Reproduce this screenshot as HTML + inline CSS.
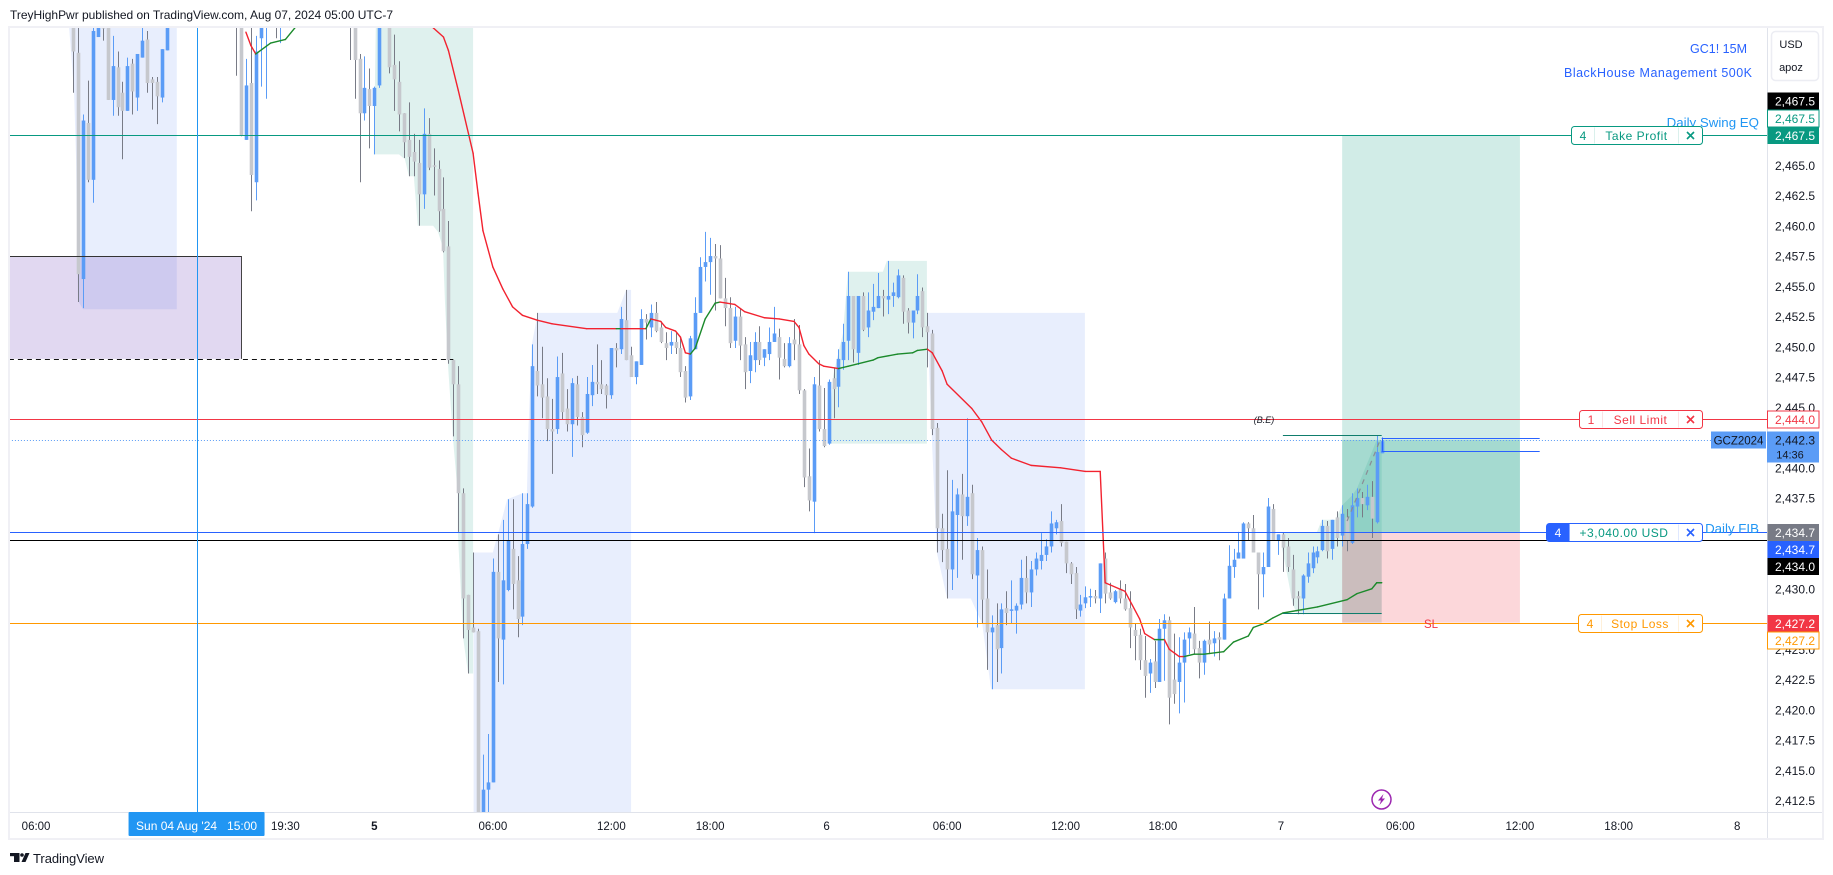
<!DOCTYPE html>
<html lang="en">
<head>
<meta charset="utf-8">
<title>GC1! 15M chart</title>
<style>
html,body{margin:0;padding:0;background:#fff;width:1833px;height:875px;overflow:hidden}
svg{display:block;font-family:"Liberation Sans",sans-serif}
</style>
</head>
<body>
<svg id="chart" width="1833" height="875" viewBox="0 0 1833 875" xmlns="http://www.w3.org/2000/svg">
  <defs><clipPath id="plot-clip"><rect x="10" y="28" width="1757" height="784"/></clipPath></defs>
  <rect x="0" y="0" width="1833" height="875" fill="#ffffff"/>
  <text x="10" y="19" font-size="12" fill="#131722" textLength="383">TreyHighPwr published on TradingView.com, Aug 07, 2024 05:00 UTC-7</text>
  <rect x="9" y="27" width="1814" height="812" fill="none" stroke="#f0f0f5" stroke-width="2"/>
  <g id="zones" clip-path="url(#plot-clip)"></g>
  <g id="candles" clip-path="url(#plot-clip)"></g>
  <g id="vwap" clip-path="url(#plot-clip)"></g>
  <g id="lines" clip-path="url(#plot-clip)"></g>
  <g id="annotations">
    <text x="1747" y="53" font-size="12.5" fill="#2962ff" text-anchor="end">GC1! 15M</text>
    <text x="1752" y="77" font-size="12.5" fill="#2962ff" text-anchor="end" textLength="188">BlackHouse Management 500K</text>
    <text x="1759" y="127" font-size="13.3" fill="#2196f3" text-anchor="end">Daily Swing EQ</text>
    <text x="1759" y="533" font-size="13.3" fill="#2196f3" text-anchor="end">Daily FIB</text>
    <text x="1264" y="423" font-size="9" font-style="italic" fill="#131722" text-anchor="middle">(B.E)</text>
    <text x="1431" y="628" font-size="11.5" fill="#f23645" text-anchor="middle">SL</text>
  </g>
  <g id="orders"></g>
  <rect x="1767" y="28" width="55" height="810" fill="#ffffff"/>
  <rect x="10" y="812" width="1812" height="26" fill="#ffffff"/>
  <line x1="1767.5" y1="28" x2="1767.5" y2="838" stroke="#e0e3eb"/>
  <line x1="10" y1="812.5" x2="1822" y2="812.5" stroke="#e0e3eb"/>
  <g id="price-axis"></g>
  <g id="time-axis"></g>
  <g>
    <rect x="1771.5" y="31.5" width="47" height="49" rx="4" fill="#fff" stroke="#ecedf3" stroke-width="1.5"/>
    <text x="1791" y="48" font-size="11" fill="#131722" text-anchor="middle">USD</text>
    <text x="1791" y="71" font-size="11" fill="#131722" text-anchor="middle">apoz</text>
  </g>
  <g>
    <circle cx="1381.5" cy="799.5" r="9.5" fill="#fff" stroke="#9c27b0" stroke-width="1.5"/>
    <polygon points="1383.5,794 1378,800.5 1381,800.5 1379.5,805 1385,798.5 1382,798.5" fill="#9c27b0"/>
  </g>
  <g>
    <rect x="10" y="853" width="9.500" height="3.200" fill="#131722"/>
    <rect x="14" y="853" width="5.500" height="9" fill="#131722"/>
    <circle cx="22" cy="855" r="1.800" fill="#131722"/>
    <polygon points="21.500,862 25.500,853 29.500,853 25.500,862" fill="#131722"/>
    <text x="33" y="863" font-size="13" fill="#131722" textLength="71">TradingView</text>
  </g>
</svg>
<script>
const _ = null;

const opens = [
2477.0,2474.3,2455.6,2468.5,2463.8,2475.6,2477.0,2477.0,2470.4,2473.1,
2471.0,2469.5,2473.4,2470.6,2473.9,2475.4,2472.1,2471.9,2470.6,2474.5,
_,_,_,_,_,_,_,_,_,_,
_,_,_,2478.0,2477.0,2467.1,2471.8,2463.6,2475.5,2477.0,
_,2478.0,2477.0,_,_,_,_,_,_,_,
_,_,_,_,_,_,2478.0,2477.0,2473.8,2469.3,
2471.3,2469.9,2471.6,_,2477.0,2473.3,2471.9,2469.3,2467.1,2466.1,
2465.2,2462.6,2467.6,2465.0,2464.7,2461.4,2458.3,2448.9,2446.9,2437.9,
2429.5,2426.8,2426.5,2410.8,2413.4,2414.0,2431.4,2425.8,2429.9,2433.3,
2430.7,2427.7,2433.7,2436.8,2448.0,2446.9,2445.9,2443.2,2443.2,2447.8,
2444.9,2443.6,2446.9,2444.2,2442.9,2446.0,2447.1,2446.9,2446.8,2446.0,
2449.9,2449.8,2452.2,2449.3,2447.5,2448.5,2452.3,2451.6,2452.8,2451.6,
2450.3,2450.1,2450.4,2449.9,2448.0,2445.9,2449.8,2452.8,2456.6,2457.0,
2457.5,2457.3,2454.0,2453.2,2450.5,2452.5,2450.2,2448.0,2448.9,2450.4,
2449.1,2449.4,2450.4,2450.8,2449.0,2448.4,2450.6,2450.2,2446.4,2439.3,
2437.2,2446.8,2443.2,2442.0,2447.4,2446.7,2448.9,2450.5,2454.2,2449.5,
2454.2,2451.6,2452.9,2453.2,2454.2,2453.9,2454.2,2454.1,2455.7,2453.0,
2452.0,2453.0,2454.6,2451.7,2451.1,2443.3,2435.0,2433.3,2431.6,2436.1,
2437.8,2436.0,2437.9,2431.1,2433.2,2429.2,2426.4,2427.0,2425.1,2428.4,
2428.2,2428.2,2428.7,2430.9,2429.7,2431.6,2432.3,2432.8,2433.5,2435.0,
2435.6,2433.9,2432.1,2431.3,2428.2,2428.8,2429.3,2429.4,2429.2,2432.5,
2429.7,2428.9,2430.0,2429.2,2428.4,2426.6,2426.2,2424.1,2423.0,2424.0,
2422.3,2426.7,2427.4,2422.5,2422.3,2423.9,2425.9,2426.3,2425.1,2423.9,
2425.8,2425.5,2426.0,2425.8,2429.2,2431.8,2432.5,2432.5,2435.4,2435.0,
2433.0,2431.2,2431.8,2436.6,2434.0,2434.5,2433.5,2431.6,2429.4,2429.2,
2431.0,2431.7,2432.6,2433.2,2435.2,2433.3,2435.9,2434.4,2435.9,2433.8,
2436.8,2437.5,2436.9,2437.6,2435.5,2441.2];

const highs = [
2477.5,2477.5,2469.2,2472.0,2477.0,2477.5,2477.5,2477.5,2475.7,2474.4,
2471.9,2473.9,2473.8,2474.2,2477.0,2476.1,2472.3,2472.3,2474.6,2477.5,
_,_,_,_,_,_,_,_,_,_,
_,_,_,2478.0,2478.0,2473.8,2477.0,2475.7,2477.5,2478.0,
_,2478.0,2478.0,_,_,_,_,_,_,_,
_,_,_,_,_,_,2478.0,2478.0,2474.2,2474.0,
2473.0,2471.5,2478.0,_,2478.0,2475.8,2473.6,2469.3,2470.2,2467.6,
2467.1,2469.7,2468.9,2466.4,2465.4,2464.0,2460.4,2448.9,2448.4,2438.3,
2429.5,2433.0,2426.7,2416.3,2418.0,2432.5,2434.5,2435.7,2437.4,2437.4,
2432.7,2437.9,2437.9,2450.2,2452.8,2450.0,2447.4,2445.7,2449.2,2449.5,
2446.5,2447.4,2447.6,2444.6,2447.5,2448.5,2450.2,2448.9,2446.9,2449.9,
2450.3,2453.3,2454.7,2450.0,2448.8,2453.1,2452.7,2453.5,2453.7,2452.1,
2451.2,2451.3,2451.2,2450.8,2448.4,2450.9,2454.1,2457.4,2459.5,2459.0,
2458.5,2458.4,2455.7,2454.1,2453.3,2453.2,2450.8,2450.4,2451.2,2451.7,
2449.8,2451.6,2453.3,2451.5,2450.3,2450.8,2452.3,2451.8,2446.5,2441.6,
2447.5,2448.9,2446.6,2447.3,2448.3,2449.8,2451.9,2456.2,2454.2,2454.2,
2454.5,2454.5,2455.2,2456.1,2454.7,2457.1,2455.3,2456.4,2455.9,2453.2,
2453.0,2456.0,2454.9,2452.8,2451.4,2443.7,2436.2,2439.8,2439.0,2438.3,
2439.5,2444.1,2438.6,2434.2,2433.5,2431.6,2427.8,2428.8,2428.8,2429.8,
2430.7,2428.8,2432.4,2432.7,2432.3,2433.0,2434.6,2434.1,2436.4,2435.7,
2437.0,2433.9,2432.2,2431.8,2429.5,2430.2,2430.0,2429.9,2432.1,2433.0,
2430.5,2429.9,2430.7,2430.4,2429.8,2427.1,2426.7,2426.1,2424.2,2425.7,
2427.5,2427.9,2427.7,2426.3,2426.0,2426.4,2426.8,2428.5,2425.7,2425.8,
2427.3,2426.5,2426.4,2429.6,2433.6,2433.3,2434.7,2435.5,2435.5,2436.1,
2433.0,2433.0,2437.5,2437.0,2434.5,2434.6,2434.2,2432.8,2429.8,2431.2,
2433.0,2433.5,2433.5,2435.7,2435.6,2435.7,2436.4,2436.9,2436.6,2437.9,
2438.3,2438.0,2438.6,2438.9,2442.7,2442.3];

const lows = [
2471.0,2453.7,2453.2,2463.6,2461.9,2475.6,2475.3,2470.4,2469.1,2469.1,
2465.5,2469.5,2469.2,2469.5,2473.9,2471.0,2469.6,2468.4,2470.2,2474.5,
_,_,_,_,_,_,_,_,_,_,
_,_,_,2472.4,2467.4,2467.1,2461.2,2462.1,2471.5,2470.5,
_,2475.5,2475.1,_,_,_,_,_,_,_,
_,_,_,_,_,_,2473.7,2470.5,2463.6,2468.7,
2466.4,2465.9,2471.4,_,2472.6,2469.5,2467.8,2465.6,2464.1,2464.1,
2460.0,2461.4,2464.6,2462.5,2459.5,2457.8,2448.6,2442.6,2434.7,2425.9,
2423.0,2426.4,2410.0,2410.0,2410.0,2414.0,2422.3,2422.1,2429.8,2428.3,
2426.0,2427.0,2433.3,2436.7,2445.9,2444.1,2442.2,2439.5,2442.8,2444.0,
2443.0,2440.9,2443.5,2441.7,2442.8,2445.1,2446.1,2446.1,2444.9,2445.7,
2448.3,2449.4,2448.9,2447.5,2446.9,2448.5,2450.6,2450.8,2451.2,2450.3,
2448.9,2449.4,2449.4,2447.5,2445.4,2445.6,2449.8,2452.8,2455.4,2454.3,
2453.0,2454.0,2451.7,2449.9,2449.9,2448.9,2446.5,2447.0,2447.9,2448.5,
2448.4,2448.9,2450.4,2447.3,2448.3,2448.3,2448.9,2446.1,2438.4,2436.4,
2434.6,2443.0,2441.7,2441.9,2444.1,2445.0,2448.1,2448.9,2448.7,2448.5,
2451.3,2450.8,2452.2,2453.2,2452.5,2452.7,2453.3,2454.0,2451.9,2451.1,
2450.7,2452.7,2450.8,2448.3,2442.7,2433.0,2432.2,2429.2,2429.9,2430.9,
2432.4,2435.2,2430.8,2426.8,2427.1,2423.3,2421.7,2422.3,2423.0,2427.0,
2427.1,2426.3,2428.3,2428.8,2428.5,2431.1,2431.6,2432.3,2433.0,2434.5,
2433.5,2431.3,2430.4,2427.5,2427.7,2428.4,2428.5,2428.8,2428.0,2428.8,
2429.1,2428.8,2428.8,2428.2,2425.1,2424.1,2423.3,2421.0,2421.4,2421.8,
2422.3,2422.4,2418.8,2420.5,2419.7,2420.6,2424.6,2424.6,2422.6,2422.9,
2424.6,2424.4,2424.1,2425.8,2429.2,2430.9,2432.5,2432.5,2434.0,2433.0,
2428.3,2429.3,2431.8,2434.0,2432.8,2431.4,2431.4,2428.6,2427.9,2427.9,
2430.5,2431.3,2432.1,2433.1,2432.5,2432.4,2433.5,2433.5,2433.1,2433.7,
2435.9,2435.9,2436.5,2434.2,2435.4,2441.2];

const closes = [
2474.4,2456.0,2468.7,2463.8,2476.1,2477.0,2476.3,2470.4,2473.2,2469.8,
2469.5,2473.2,2471.1,2474.2,2475.3,2471.8,2471.8,2470.7,2474.6,2477.0,
_,_,_,_,_,_,_,_,_,_,
_,_,_,2477.0,2467.5,2471.6,2464.2,2474.4,2477.0,2478.0,
_,2477.0,2478.0,_,_,_,_,_,_,_,
_,_,_,_,_,_,2477.0,2473.7,2469.3,2471.4,
2469.9,2471.4,2477.0,_,2473.1,2472.1,2469.2,2466.9,2465.7,2465.3,
2462.6,2467.6,2464.8,2464.9,2461.2,2457.9,2448.9,2446.9,2437.9,2429.2,
2426.6,2426.4,2410.8,2413.4,2414.0,2431.4,2425.9,2430.7,2434.0,2430.4,
2427.5,2433.7,2437.0,2448.4,2446.8,2445.8,2443.2,2443.0,2447.5,2444.6,
2443.6,2447.0,2444.2,2442.7,2446.1,2447.1,2446.9,2446.5,2446.0,2449.9,
2449.7,2452.3,2448.9,2447.5,2448.8,2452.3,2452.0,2452.8,2451.3,2450.4,
2449.9,2450.4,2449.9,2447.9,2445.8,2450.7,2452.8,2456.6,2457.0,2457.5,
2457.3,2454.0,2453.2,2450.3,2452.5,2450.1,2447.9,2449.3,2450.4,2448.9,
2449.8,2450.4,2451.1,2449.1,2448.4,2450.3,2450.2,2446.4,2439.2,2437.3,
2446.9,2443.2,2441.8,2447.1,2446.5,2449.0,2450.4,2454.2,2449.8,2454.2,
2451.4,2453.0,2453.3,2454.2,2454.0,2454.2,2454.5,2455.9,2452.9,2452.0,
2453.0,2454.2,2451.6,2451.2,2443.2,2435.0,2433.2,2431.6,2436.4,2437.8,
2436.0,2437.6,2431.2,2433.2,2429.1,2426.4,2426.8,2425.0,2428.3,2428.0,
2428.3,2428.6,2430.9,2429.7,2431.6,2432.5,2432.8,2433.5,2435.4,2435.5,
2433.8,2432.1,2431.2,2428.3,2428.7,2429.3,2429.4,2429.2,2432.1,2429.6,
2429.2,2429.8,2429.2,2428.3,2426.8,2426.1,2424.1,2422.8,2423.9,2422.3,
2426.7,2427.4,2421.0,2421.3,2423.9,2425.8,2426.4,2425.0,2423.9,2425.7,
2425.4,2425.9,2425.8,2429.2,2431.9,2432.4,2433.0,2435.4,2435.0,2433.0,
2431.2,2431.8,2436.8,2434.0,2434.5,2433.4,2431.8,2429.2,2429.2,2431.1,
2432.1,2433.0,2433.1,2435.2,2433.1,2435.7,2434.2,2436.2,2434.0,2436.9,
2437.5,2437.0,2437.6,2435.8,2441.3,2442.2];

const vwapBars = [35,36,37,40,43,45,46,_,72,75,76,78,81,82,83,85,87,89,91,94,97,104,110,111,116,117,119,120,122,123,124,125,126,128,130,131,134,136,140,143,146,147,148,149,151,152,155,157,162,163,167,170,171,173,174,176,177,182,184,186,188,190,194,200,205,208,209,213,216,217,219,221,222,224,225,227,229,233,235,238,239,241,243,245,252,258,260,263,264,265];
const vwapPrices = [2476.0,2474.9,2474.2,2475.1,2475.4,2476.4,2477.2,_,2476.7,2475.6,2474.5,2471.2,2466.0,2462.7,2459.6,2456.6,2454.8,2453.3,2452.6,2452.2,2451.9,2451.5,2451.5,2451.5,2451.5,2452.3,2452.1,2451.6,2451.3,2450.8,2449.5,2449.4,2449.9,2452.3,2453.6,2453.7,2453.5,2452.9,2452.4,2452.3,2452.1,2451.6,2450.1,2449.4,2448.6,2448.4,2448.2,2448.4,2448.9,2449.1,2449.4,2449.5,2449.7,2449.8,2449.5,2448.0,2446.9,2444.9,2443.8,2442.3,2441.5,2440.8,2440.2,2440.0,2439.7,2439.7,2430.5,2429.8,2427.5,2426.3,2425.8,2425.8,2425.0,2424.4,2424.4,2424.6,2424.6,2424.8,2425.6,2426.1,2426.8,2427.1,2427.6,2428.0,2428.5,2429.1,2429.6,2430.0,2430.5,2430.5];
const vwapTrend = ['r','r','g','g','g','g','g',_,'r','r','r','r','r','r','r','r','r','r','r','r','r','r','g','r','g','r','r','r','r','r','r','g','g','g','g','r','r','r','r','r','r','r','r','r','r','r','g','g','g','g','g','g','g','r','r','r','r','r','r','r','r','r','r','r','r','r','r','r','r','r','g','r','r','r','g','g','g','g','g','g','g','g','g','g','g','g','g','g','g','g'];

const blueZone1Bars = [-0.8,21,21,2,1,0.6,0.2];
const blueZone1Prices = [2476.4,2476.4,2453.1,2453.1,2453.8,2465.4,2471.0];
const blueZone2Bars = [94.1,110.2,112,113,113,81.1,81.1,85,86.2,87.9,91,91.9,92.2,92.9];
const blueZone2Prices = [2452.8,2452.8,2454.7,2454.7,2411,2411,2433.0,2433.0,2434.8,2437.4,2437.9,2437.9,2443.1,2450.2];
const blueZone3Bars = [172.9,204.9,204.9,185.9,184.1,181.8,177,174.9,173.9];
const blueZone3Prices = [2452.8,2452.8,2421.7,2421.7,2427.1,2429.2,2429.2,2433.0,2442.5];
const greenZone1Bars = [61.3,81,81,80,79,77.9,77.9,76.9,75.9,75.3,74.9,73.9,72.9,69.8,69,68,67.2,66,60.9];
const greenZone1Prices = [2476.4,2476.4,2423.0,2423.0,2425.9,2434.7,2437.8,2442.6,2448.6,2453.8,2458.2,2459.5,2460.0,2460.0,2464.1,2464.1,2465.5,2465.9,2465.9];
const greenZone2Bars = [152.9,172.9,172.9,164.8,164,156.9,155.9,153.9];
const greenZone2Prices = [2442.0,2442.0,2457.1,2457.1,2456.2,2456.2,2451.1,2447.6];
const greenZone3Bars = [244.8,251.9,252.9,255.6,257,259,260,263.9,265,265,247.9,247,245.8,244.8];
const greenZone3Prices = [2434.6,2434.7,2435.7,2435.7,2436.9,2437.7,2438.3,2442.2,2442.2,2427.9,2427.9,2428.7,2431.3,2433.4];

const priceTicks = [2465.0,2462.5,2460.0,2457.5,2455.0,2452.5,2450.0,2447.5,2445.0,2442.5,2440.0,2437.5,2435.0,2432.5,2430.0,2427.5,2425.0,2422.5,2420.0,2417.5,2415.0,2412.5];
const timeTickLabels = ['06:00','19:30','5','06:00','12:00','18:00','6','06:00','12:00','18:00','7','06:00','12:00','18:00','8'];
const timeTickBars = [-7.5,43,61,85,109,129,152.6,177,201,220.7,244.6,268.8,293,313,337];

const takeProfit = 2467.5;
const sellLimit = 2444.0;
const lastPrice = 2442.3;
const entryPrice = 2434.7;
const fibPrice = 2434.0;
const stopLoss = 2427.2;
const cursorBar = 25;

const xBar = i => 73.1 + 4.938 * i;
const yPrice = p => 165.3 + (2465 - p) * 12.1;
const crisp = v => Math.round(v) + 0.5;

const SVG_NS = 'http://www.w3.org/2000/svg';
function make(parent, tag, attrs) {
  const el = document.createElementNS(SVG_NS, tag);
  for (const k in attrs) el.setAttribute(k, attrs[k]);
  parent.appendChild(el);
  return el;
}
function zonePoints(bars, prices) {
  return bars.map((b, k) => xBar(b).toFixed(1) + ',' + yPrice(prices[k]).toFixed(1)).join(' ');
}
function fmt(p) {
  const s = p.toFixed(1);
  return s.slice(0, 1) + ',' + s.slice(1);
}

/* ---------- zones ---------- */
const zones = document.getElementById('zones');
function addZone(bars, prices, fill, name) {
  const el = make(zones, 'polygon', { points: zonePoints(bars, prices), fill: fill });
  
  
}
addZone(blueZone1Bars, blueZone1Prices, '#e8eefd', 'blue-session-zone-1');
addZone(blueZone2Bars, blueZone2Prices, '#e8eefd', 'blue-session-zone-2');
addZone(blueZone3Bars, blueZone3Prices, '#e8eefd', 'blue-session-zone-3');
addZone(greenZone1Bars, greenZone1Prices, '#dff1ee', 'green-session-zone-1');
addZone(greenZone2Bars, greenZone2Prices, '#dff1ee', 'green-session-zone-2');
addZone(greenZone3Bars, greenZone3Prices, '#dff1ee', 'green-session-zone-3');

function addBand(barA, barB, priceTop, priceBottom, fill, name) {
  const el = make(zones, 'rect', {
    x: xBar(barA), y: yPrice(priceTop),
    width: xBar(barB) - xBar(barA), height: yPrice(priceBottom) - yPrice(priceTop), fill: fill
  });
  
  
}
const purpleBoxLeft = -13, purpleBoxRight = 34, purpleBoxTop = 2457.5, purpleBoxBottom = 2449.0;
addBand(purpleBoxLeft, purpleBoxRight, purpleBoxTop, purpleBoxBottom, 'rgba(103,58,183,0.2)', 'purple-supply-box');

const positionStart = 257, positionEnd = 293;
addBand(positionStart, positionEnd, takeProfit, entryPrice, 'rgba(8,153,129,0.19)', 'position-profit-zone');
addBand(positionStart, positionEnd, lastPrice, entryPrice, 'rgba(8,153,129,0.22)', 'position-open-profit-zone');
addBand(positionStart, positionEnd, entryPrice, stopLoss, 'rgba(242,54,69,0.2)', 'position-stop-zone');
addBand(positionStart, 265, entryPrice, stopLoss, 'rgba(90,120,110,0.16)', 'position-elapsed-zone');

/* ---------- candles ---------- */
const candleGroup = document.getElementById('candles');
opens.forEach((o, i) => {
  if (o === null) return;
  const c = closes[i], up = c >= o;
  const x = Math.round(xBar(i));
  const wick = make(candleGroup, 'line', {
    x1: x + 0.5, x2: x + 0.5, y1: yPrice(highs[i]), y2: yPrice(lows[i]),
    stroke: up ? '#5b9cf6' : '#787b86', 'stroke-width': 1
  });
  
  
  const top = yPrice(Math.max(o, c)), bottom = yPrice(Math.min(o, c));
  const body = make(candleGroup, 'rect', {
    x: x - 1.3, y: top, width: 3.6, height: Math.max(bottom - top, 1.5),
    fill: up ? '#5b9cf6' : '#c6c8cd'
  });
  
  
});

/* ---------- VWAP ---------- */
const vwapGroup = document.getElementById('vwap');
for (let k = 0; k < vwapBars.length - 1; k++) {
  if (vwapPrices[k] === null || vwapPrices[k + 1] === null) continue;
  const seg = make(vwapGroup, 'line', {
    x1: xBar(vwapBars[k]), y1: yPrice(vwapPrices[k]),
    x2: xBar(vwapBars[k + 1]), y2: yPrice(vwapPrices[k + 1]),
    stroke: vwapTrend[k] === 'g' ? '#1b8a2b' : '#f2222f', 'stroke-width': 1.4, 'stroke-linecap': 'round'
  });
  
  
}

/* ---------- lines ---------- */
const lineGroup = document.getElementById('lines');
function hLine(barA, barB, price, stroke, name, dash, interact) {
  const y = crisp(yPrice(price));
  const attrs = { x1: xBar(barA), x2: xBar(barB), y1: y, y2: y, stroke: stroke, 'stroke-width': 1 };
  if (dash) attrs['stroke-dasharray'] = dash;
  const el = make(lineGroup, 'line', attrs);
  
  
}
const plotLeftBar = -13, plotRightBar = 344;
hLine(plotLeftBar, plotRightBar, takeProfit, '#089981', 'take-profit-line', null, true);
hLine(plotLeftBar, plotRightBar, sellLimit, '#f23645', 'sell-limit-line', null, true);
hLine(plotLeftBar, plotRightBar, lastPrice, '#5b9cf6', 'last-price-line', '1 2', false);
hLine(plotLeftBar, plotRightBar, entryPrice, '#2962ff', 'position-entry-line', null, true);
hLine(plotLeftBar, plotRightBar, fibPrice, '#000000', 'daily-fib-line', null, true);
hLine(plotLeftBar, plotRightBar, stopLoss, '#ff9800', 'stop-loss-line', null, true);
hLine(purpleBoxLeft, purpleBoxRight, purpleBoxTop, '#333333', 'purple-box-top-edge');
hLine(purpleBoxLeft, 77, purpleBoxBottom, '#111111', 'purple-box-dashed-level', '5 4');
hLine(245, 265, 2442.7, '#0f7d6c', 'range-high-line');
hLine(245, 265, 2428.0, '#0f7d6c', 'range-low-line');
hLine(265, 297, 2442.5, '#2962ff', 'fvg-top-line');
hLine(265, 297, 2441.4, '#2962ff', 'fvg-bottom-line');

const boxEdge = make(lineGroup, 'line', {
  x1: crisp(xBar(purpleBoxRight)), x2: crisp(xBar(purpleBoxRight)),
  y1: yPrice(purpleBoxTop), y2: yPrice(purpleBoxBottom), stroke: '#444444', 'stroke-width': 1
});



const fvgEdge = make(lineGroup, 'line', {
  x1: crisp(xBar(265)), x2: crisp(xBar(265)),
  y1: yPrice(2442.5), y2: yPrice(2441.4), stroke: '#2962ff', 'stroke-width': 1
});



const trendBars = [258, 264.5], trendPrices = [2435.6, 2442.1];
const trendLine = make(lineGroup, 'line', {
  x1: xBar(trendBars[0]), y1: yPrice(trendPrices[0]), x2: xBar(trendBars[1]), y2: yPrice(trendPrices[1]),
  stroke: '#8a8d96', 'stroke-width': 1.2, 'stroke-dasharray': '5 5'
});



const crosshair = make(lineGroup, 'line', {
  x1: crisp(xBar(cursorBar)), x2: crisp(xBar(cursorBar)), y1: 28, y2: 812, stroke: '#2196f3', 'stroke-width': 1
});



/* ---------- order labels ---------- */
const orders = document.getElementById('orders');
function orderLabel(opts) {
  const y = crisp(yPrice(opts.price));
  const g = make(orders, 'g', {});
  
  
  const right = 1702.5, left = opts.left, top = y - 9, h = 18;
  make(g, 'rect', { x: left, y: top, width: right - left, height: h, rx: 3, fill: '#ffffff', stroke: opts.color });
  if (opts.filled) {
    make(g, 'path', {
      d: 'M' + opts.div + ' ' + top + 'H' + (left + 3) + 'a3 3 0 0 0 -3 3V' + (top + h - 3) + 'a3 3 0 0 0 3 3H' + opts.div + 'Z',
      fill: opts.color
    });
  }
  make(g, 'line', { x1: opts.div, x2: opts.div, y1: top + 1, y2: top + h - 1, stroke: opts.color, 'stroke-opacity': 0.15 });
  make(g, 'line', { x1: 1678.5, x2: 1678.5, y1: top + 1, y2: top + h - 1, stroke: opts.color, 'stroke-opacity': 0.15 });
  const qty = make(g, 'text', {
    x: (left + opts.div) / 2, y: y + 4.5, 'font-size': 12, 'text-anchor': 'middle',
    fill: opts.filled ? '#ffffff' : opts.color
  });
  qty.textContent = opts.qty;
  const txt = make(g, 'text', {
    x: (opts.div + 1678.5) / 2, y: y + 4.5, 'font-size': 12, 'text-anchor': 'middle',
    fill: opts.textColor || opts.color, 'letter-spacing': 0.5
  });
  txt.textContent = opts.text;
  const cx = 1690.5;
  const close = make(g, 'path', {
    d: 'M' + (cx - 3.5) + ' ' + (y - 3.5) + 'L' + (cx + 3.5) + ' ' + (y + 3.5) + 'M' + (cx + 3.5) + ' ' + (y - 3.5) + 'L' + (cx - 3.5) + ' ' + (y + 3.5),
    stroke: opts.color, 'stroke-width': 1.6, fill: 'none'
  });
  
  
}
orderLabel({ name: 'take-profit-order', price: takeProfit, left: 1571.5, div: 1594.5, color: '#089981', qty: '4', text: 'Take Profit' });
orderLabel({ name: 'sell-limit-order', price: sellLimit, left: 1579.5, div: 1602.5, color: '#f23645', qty: '1', text: 'Sell Limit' });
orderLabel({ name: 'position-pnl-order', price: entryPrice, left: 1546.5, div: 1569.5, color: '#2962ff', qty: '4', text: '+3,040.00 USD', textColor: '#089981', filled: true });
orderLabel({ name: 'stop-loss-order', price: stopLoss, left: 1578.5, div: 1601.5, color: '#ff9800', qty: '4', text: 'Stop Loss' });

/* ---------- price axis ---------- */
const priceAxis = document.getElementById('price-axis');
priceTicks.forEach(p => {
  const t = make(priceAxis, 'text', { x: 1795, y: yPrice(p) + 4.5, 'font-size': 12, fill: '#131722', 'text-anchor': 'middle' });
  
  
  t.textContent = fmt(p);
});
function priceTag(price, dy, fill, stroke, color, name) {
  const cy = crisp(yPrice(price)) + dy;
  const r = make(priceAxis, 'rect', { x: 1767.5, y: cy - 8.5, width: 51.5, height: 17, fill: fill, stroke: stroke || 'none' });
  
  
  const t = make(priceAxis, 'text', { x: 1795, y: cy + 4.5, 'font-size': 12, fill: color, 'text-anchor': 'middle' });
  
  
  t.textContent = fmt(price);
}
priceTag(takeProfit, -34.5, '#000000', null, '#ffffff', 'swing-eq-black');
priceTag(takeProfit, -17, '#ffffff', '#089981', '#089981', 'swing-eq-outline');
priceTag(takeProfit, 0, '#089981', null, '#ffffff', 'take-profit');
priceTag(sellLimit, 0, '#ffffff', '#f23645', '#f23645', 'sell-limit');
priceTag(entryPrice, 0, '#787b86', null, '#ffffff', 'fib-grey');
priceTag(entryPrice, 17, '#2962ff', null, '#ffffff', 'entry');
priceTag(fibPrice, 26, '#000000', null, '#ffffff', 'daily-fib');
priceTag(stopLoss, 0, '#f23645', null, '#ffffff', 'stop-loss');
priceTag(stopLoss, 17, '#ffffff', '#ff9800', '#ff9800', 'stop-loss-outline');

const lastY = crisp(yPrice(lastPrice));
const lastTag = make(priceAxis, 'rect', { x: 1767, y: lastY - 9, width: 52, height: 31, fill: '#5b9cf6' });


const lastValue = make(priceAxis, 'text', { x: 1795, y: lastY + 4, 'font-size': 12, fill: '#131722', 'text-anchor': 'middle' });


lastValue.textContent = fmt(lastPrice);
const countdown = make(priceAxis, 'text', { x: 1790, y: lastY + 18, 'font-size': 11, fill: '#131722', 'text-anchor': 'middle' });


countdown.textContent = '14:36';
const symbolTag = make(priceAxis, 'rect', { x: 1711, y: lastY - 9, width: 55, height: 17, fill: '#5b9cf6' });


const symbolText = make(priceAxis, 'text', { x: 1738.5, y: lastY + 4, 'font-size': 11.5, fill: '#131722', 'text-anchor': 'middle' });


symbolText.textContent = 'GCZ2024';

/* ---------- time axis ---------- */
const timeAxis = document.getElementById('time-axis');
timeTickLabels.forEach((label, k) => {
  const bold = label === '5';
  const t = make(timeAxis, 'text', {
    x: xBar(timeTickBars[k]), y: 830, 'font-size': 11.5, fill: '#131722', 'text-anchor': 'middle',
    'font-weight': bold ? 'bold' : 'normal'
  });
  
  
  t.textContent = label;
});
const cursorTag = make(timeAxis, 'rect', { x: xBar(cursorBar) - 68, y: 812, width: 136, height: 24, rx: 1, fill: '#2196f3' });


const cursorText = make(timeAxis, 'text', { x: xBar(cursorBar), y: 830, 'font-size': 12, fill: '#ffffff', 'text-anchor': 'middle', 'xml:space': 'preserve' });


cursorText.textContent = "Sun 04 Aug '24\u00A0\u00A0\u00A015:00";
</script>
</body>
</html>
